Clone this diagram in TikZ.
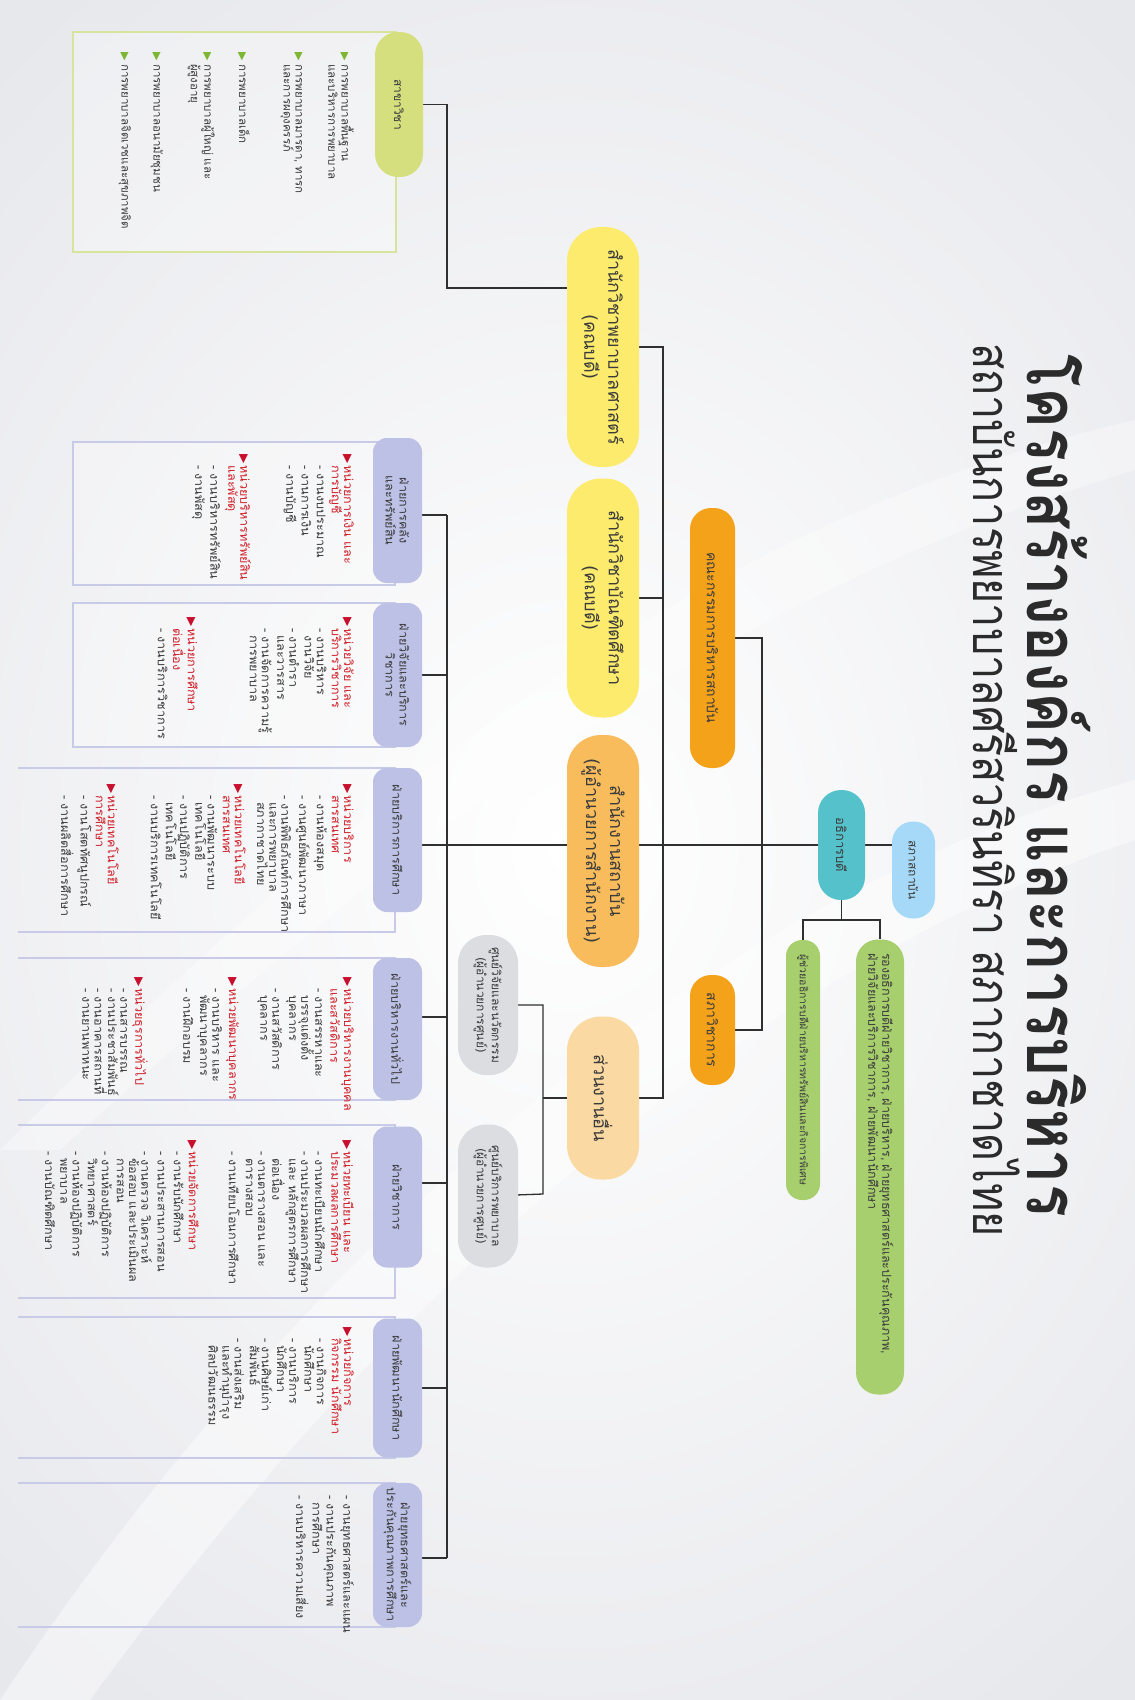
\documentclass[tikz,border=0pt]{standalone}
\usepackage{fontspec}
\newfontfamily\thai[Script=Thai]{Loma}
\newfontfamily\thaiw[Script=Thai,FakeStretch=1.05]{Loma}
\newfontfamily\thaititle[Script=Thai,FakeStretch=0.85]{Loma}
\newfontfamily\thaisub[Script=Thai,FakeStretch=0.83]{Loma}
\newfontfamily\sym{DejaVu Sans}
\definecolor{bgc}{HTML}{E7E8EC}
\definecolor{linec}{HTML}{303030}
\definecolor{txt}{HTML}{3C3C3C}
\definecolor{redc}{HTML}{D0202A}
\definecolor{tric}{HTML}{C8102E}
\definecolor{grtri}{HTML}{7DB632}
\definecolor{purp}{HTML}{BDC1E6}
\definecolor{boxb}{HTML}{C8CBE7}
\definecolor{sakhac}{HTML}{D5DF7E}
\definecolor{sakhab}{HTML}{D8E39C}
\definecolor{yel}{HTML}{FCEB6C}
\definecolor{offc}{HTML}{F8BC5C}
\definecolor{othc}{HTML}{FBD9A2}
\definecolor{orc}{HTML}{F5A21B}
\definecolor{grayc}{HTML}{DCDDE1}
\definecolor{blc}{HTML}{A6D9F7}
\definecolor{tealc}{HTML}{55C2CB}
\definecolor{grc}{HTML}{A7CF6D}
\definecolor{titlec}{HTML}{2B2B2B}
\pgfdeclarelayer{bgl}
\pgfdeclarelayer{wires}
\pgfsetlayers{bgl,wires,main}
\newcommand\rtri{\llap{{\color{tric}\sym\fontsize{12}{12}\selectfont ▶}\hspace{1pt}}}
\newcommand\gtri{\llap{{\color{grtri}\sym\fontsize{11}{11}\selectfont ▶}\hspace{3pt}}}
\newcommand\rd[1]{{\color{redc}#1}}
\newcommand\ind{\hspace*{7pt}}
\newcommand\paren[1]{{\sym(}#1{\sym)}}
\tikzset{
  pill/.style={rotate=-90, draw=none, inner sep=2pt, align=center, text=txt},
  hdr/.style={pill, fill=purp, minimum height=49pt, rounded corners=14pt,
    font=\thaiw\fontsize{12}{14}\selectfont},
  cont/.style={rotate=-90, anchor=north west, inner sep=0pt, align=left, text=txt,
    font=\thaiw\fontsize{12}{12.2}\selectfont},
  lst/.style={rotate=-90, anchor=north west, inner sep=0pt, align=left, text=txt,
    font=\thai\fontsize{11.5}{12}\selectfont},
  wire/.style={draw=linec, line width=1.3pt},
  colbox/.style={draw=boxb, line width=1.6pt},
}
\begin{document}
\begin{tikzpicture}[x=1pt,y=-1pt]
\useasboundingbox (0,0) rectangle (1135,1700);
\begin{pgfonlayer}{bgl}
  \clip (0,0) rectangle (1135,1700);
  \shade[inner color=white, outer color=bgc] (-300,-200) rectangle (1435,1900);
  \fill[white, opacity=0.45] (0,1700) .. controls (300,1250) and (700,900) .. (1135,780)
     -- (1135,840) .. controls (720,980) and (360,1330) .. (90,1700) -- cycle;
  \fill[white, opacity=0.35] (0,1150) .. controls (350,800) and (700,520) .. (1135,420)
     -- (1135,470) .. controls (700,600) and (380,860) .. (60,1150) -- cycle;
\end{pgfonlayer}

% ---------- title ----------
\node[rotate=-90, inner sep=0pt, text=titlec, font=\thaititle\bfseries\fontsize{72}{72}\selectfont]
  (title) at (1059,786) {โครงสร้างองค์กร และการบริหาร};
\node[rotate=-90, inner sep=0pt, text=titlec, font=\thaisub\fontsize{52}{52}\selectfont]
  (subtitle) at (997,790) {สถาบันการพยาบาลศรีสวรินทิรา สภากาชาดไทย};

% ---------- top nodes ----------
\node[pill, fill=blc, minimum width=97pt, minimum height=43pt, rounded corners=21pt,
  font=\thai\fontsize{12}{14}\selectfont] (council) at (913.5,870) {สภาสถาบัน};
\node[pill, fill=tealc, minimum width=110pt, minimum height=47pt, rounded corners=23pt,
  font=\thai\fontsize{13}{15}\selectfont] (pres) at (841.5,845) {อธิการบดี};
\node[pill, fill=grc, minimum width=455pt, minimum height=48pt, rounded corners=22pt,
  text width=428pt, align=left, font=\thai\fontsize{12.5}{14}\selectfont] (g1) at (880,1167)
  {รองอธิการบดีฝ่ายวิชาการ, ฝ่ายบริหาร, ฝ่ายยุทธศาสตร์และประกันคุณภาพ,\\ฝ่ายวิจัยและบริการวิชาการ, ฝ่ายพัฒนานักศึกษา};
\node[pill, fill=grc, minimum width=260pt, minimum height=34pt, rounded corners=16pt,
  font=\thai\fontsize{10.5}{12}\selectfont] (g2) at (803,1070)
  {ผู้ช่วยอธิการบดีฝ่ายบริหารทรัพย์สินและกิจการพิเศษ};
\node[pill, fill=orc, minimum width=260pt, minimum height=45pt, rounded corners=21pt,
  font=\thai\fontsize{14}{16}\selectfont] (kb) at (712.5,638) {คณะกรรมการบริหารสถาบัน};
\node[pill, fill=orc, minimum width=110pt, minimum height=45pt, rounded corners=21pt,
  font=\thai\fontsize{14}{16}\selectfont] (sw) at (712.5,1030) {สภาวิชาการ};

% ---------- middle nodes ----------
\tikzset{mid/.style={pill, minimum height=72pt, rounded corners=34pt,
  font=\thai\fontsize{18}{24}\selectfont}}
\node[mid, fill=yel, minimum width=240pt] (y1) at (603,347) {สำนักวิชาพยาบาลศาสตร์\\\paren{คณบดี}};
\node[mid, fill=yel, minimum width=239pt] (y2) at (603,598) {สำนักวิชาบัณฑิตศึกษา\\\paren{คณบดี}};
\node[mid, fill=offc, minimum width=232pt] (off) at (603,851) {สำนักงานสถาบัน\\\paren{ผู้อำนวยการสำนักงาน}};
\node[mid, fill=othc, minimum width=163pt] (oth) at (603,1098) {ส่วนงานอื่น};
\tikzset{grbox/.style={pill, fill=grayc, minimum height=60pt, rounded corners=28pt,
  font=\thai\fontsize{12}{15}\selectfont}}
\node[grbox, minimum width=140pt] (gray1) at (488,1005) {ศูนย์วิจัยและนวัตกรรม\\\paren{ผู้อำนวยการศูนย์}};
\node[grbox, minimum width=143pt] (gray2) at (488,1196) {ศูนย์บริการพยาบาล\\\paren{ผู้อำนวยการศูนย์}};

% ---------- สาขาวิชา ----------
\draw[draw=sakhab, line width=1.6pt, fill=white, fill opacity=0.3] (73,32) rectangle (396,252);
\node[pill, fill=sakhac, minimum width=145pt, minimum height=48pt, rounded corners=23pt,
  font=\thai\fontsize{12}{14}\selectfont] (sakha) at (399,104.5) {สาขาวิชา};
\node[lst] (s1) at (354,64) {\gtri การพยาบาลพื้นฐาน\\และบริหารการพยาบาล};
\node[lst] (s2) at (303,64) {\gtri การพยาบาลมารดา, ทารก\\และการผดุงครรภ์};
\node[lst] (s3) at (250,64) {\gtri การพยาบาลเด็ก};
\node[lst] (s4) at (215,64) {\gtri การพยาบาลผู้ใหญ่ และ\\ผู้สูงอายุ};
\node[lst] (s5) at (163,64) {\gtri การพยาบาลอนามัยชุมชน};
\node[lst] (s6) at (131,64) {\gtri การพยาบาลจิตเวชและสุขภาพจิต};

% ---------- department columns ----------
\draw[colbox, fill=white, fill opacity=0.25] (73,442) rectangle (395,585);
\draw[colbox, fill=white, fill opacity=0.25] (73,603) rectangle (395,747);
\draw[colbox] (18,768) -- (395,768) -- (395,932) -- (18,932);
\draw[colbox] (18,958) -- (395,958) -- (395,1100) -- (18,1100);
\draw[colbox] (18,1125) -- (395,1125) -- (395,1298) -- (18,1298);
\draw[colbox] (18,1317) -- (395,1317) -- (395,1458) -- (18,1458);
\draw[colbox] (18,1483) -- (395,1483) -- (395,1627) -- (18,1627);

\node[hdr, minimum width=145pt] (h1) at (397.5,510.5) {ฝ่ายการคลัง\\และทรัพย์สิน};
\node[hdr, minimum width=144pt] (h2) at (397.5,675) {ฝ่ายวิจัยและบริการ\\วิชาการ};
\node[hdr, minimum width=144pt] (h3) at (397.5,840) {ฝ่ายบริการการศึกษา};
\node[hdr, minimum width=142pt] (h4) at (397.5,1029) {ฝ่ายบริหารงานทั่วไป};
\node[hdr, minimum width=141pt] (h5) at (397.5,1197) {ฝ่ายวิชาการ};
\node[hdr, minimum width=139pt] (h6) at (397.5,1388) {ฝ่ายพัฒนานักศึกษา};
\node[hdr, minimum width=144pt] (h7) at (397.5,1555) {ฝ่ายยุทธศาสตร์และ\\ประกันคุณภาพการศึกษา};

% column 1
\node[cont] (c1a) at (354,465) {\rtri\rd{หน่วยการเงิน และ}\\\rd{การบัญชี}\\[3pt]- งานงบประมาณ\\[3pt]- งานการเงิน\\[3pt]- งานบัญชี};
\node[cont] (c1b) at (251,465) {\rtri\rd{หน่วยบริหารทรัพย์สิน}\\\rd{และพัสดุ}\\[3pt]- งานบริหารทรัพย์สิน\\[3pt]- งานพัสดุ};
% column 2
\node[cont] (c2a) at (354,628) {\rtri\rd{หน่วยวิจัย และ}\\\rd{บริการวิชาการ}\\[3pt]- งานบริหาร\\\ind งานวิจัย\\[3pt]- งานตำรา\\\ind และวารสาร\\[3pt]- งานจัดการความรู้\\\ind การพยาบาล};
\node[cont] (c2b) at (198,628) {\rtri\rd{หน่วยการศึกษา}\\\rd{ต่อเนื่อง}\\[3pt]- งานบริการวิชาการ};
% column 3
\node[cont] (c3a) at (354,795) {\rtri\rd{หน่วยบริการ}\\\rd{สารสนเทศ}\\[3pt]- งานห้องสมุด\\[3pt]- งานศูนย์พัฒนาภาษา\\[3pt]- งานพิพิธภัณฑ์การศึกษา\\\ind และการพยาบาล\\\ind สภากาชาดไทย};
\node[cont] (c3b) at (246,795) {\rtri\rd{หน่วยเทคโนโลยี}\\\rd{สารสนเทศ}\\[3pt]- งานพัฒนาระบบ\\\ind เทคโนโลยี\\[3pt]- งานปฏิบัติการ\\\ind เทคโนโลยี\\[3pt]- งานบริการเทคโนโลยี};
\node[cont] (c3c) at (119,795) {\rtri\rd{หน่วยเทคโนโลยี}\\\rd{การศึกษา}\\[3pt]- งานโสตทัศนูปกรณ์\\[3pt]- งานผลิตสื่อการศึกษา};
% column 4
\node[cont] (c4a) at (354,988) {\rtri\rd{หน่วยบริหารงานบุคคล}\\\rd{และสวัสดิการ}\\[3pt]- งานสรรหาและ\\\ind บรรจุแต่งตั้ง\\\ind บุคลากร\\[3pt]- งานสวัสดิการ\\\ind บุคลากร};
\node[cont] (c4b) at (239,988) {\rtri\rd{หน่วยพัฒนาบุคลากร}\\[3pt]- งานบริหาร และ\\\ind พัฒนาบุคลากร\\[3pt]- งานฝึกอบรม};
\node[cont] (c4c) at (148,988) {\rtri\rd{หน่วยธุรการทั่วไป}\\[3pt]- งานสารบรรณ\\- งานประชาสัมพันธ์\\- งานอาคารสถานที่\\- งานยานพาหนะ};
% column 5
\node[cont] (c5a) at (354,1151) {\rtri\rd{หน่วยทะเบียน และ}\\\rd{ประมวลผลการศึกษา}\\[4pt]- งานทะเบียนนักศึกษา\\[2pt]- งานประมวลผลการศึกษา\\\ind และ หลักสูตรการศึกษา\\\ind ต่อเนื่อง\\[2pt]- งานตารางสอน และ\\\ind ตารางสอบ\\[5pt]- งานเทียบโอนการศึกษา};
\node[cont] (c5b) at (199,1151) {\rtri\rd{หน่วยจัดการศึกษา}\\[3pt]- งานรับนักศึกษา\\[4pt]- งานประสานการสอน\\[4pt]- งานตรวจ วิเคราะห์\\\ind ข้อสอบ และประเมินผล\\\ind การสอน\\[3pt]- งานห้องปฏิบัติการ\\\ind วิทยาศาสตร์\\[3pt]- งานห้องปฏิบัติการ\\\ind พยาบาล\\[3pt]- งานบัณฑิตศึกษา};
% column 6
\node[cont] (c6a) at (354,1338) {\rtri\rd{หน่วยกิจการ}\\\rd{กิจกรรม นักศึกษา}\\[3pt]- งานกิจการ\\\ind นักศึกษา\\[3pt]- งานบริการ\\\ind นักศึกษา\\[3pt]- งานศิษย์เก่า\\\ind สัมพันธ์\\[3pt]- งานส่งเสริม\\\ind และทำนุบำรุง\\\ind ศิลปวัฒนธรรม};
% column 7
\node[cont] (c7a) at (354,1495) {- งานยุทธศาสตร์และแผน\\[3pt]- งานประกันคุณภาพ\\\ind การศึกษา\\[3pt]- งานบริหารความเสี่ยง};

% ---------- connectors ----------
\begin{pgfonlayer}{wires}
  \draw[wire] (sakha) -| (447,288) -- (y1 |- 0,288);
  \coordinate (busT) at (447,515);
  \coordinate (busB) at (447,1558);
  \draw[wire] (busT) -- (busB);
  \draw[wire] (h1 |- 0,515) -- (busT);
  \draw[wire] (h2) -- (h2 -| busT);
  \draw[wire] (h3 |- 0,845) -- (pres);
  \draw[wire] (h4 |- 0,1017) -- (447,1017);
  \draw[wire] (h5 |- 0,1183) -- (447,1183);
  \draw[wire] (h6) -- (h6 -| busT);
  \draw[wire] (h7 |- busB) -- (busB);
  \draw[wire] (y1) -| (663,1098) -- (oth);
  \draw[wire] (y2) -- (663,598);
  \draw[wire] (kb) -| (762,1030) -- (sw);
  \draw[wire] (pres) -- (council |- pres);
  \draw[wire] (pres) -- (pres |- 0,920) coordinate (pj);
  \draw[wire] (g2) |- (pj) -| (g1);
  \draw[wire] (oth) -- (oth -| 543,0);
  \draw[wire] (gray1) -| (543,1194) -- (gray2);
\end{pgfonlayer}
\end{tikzpicture}
\end{document}
